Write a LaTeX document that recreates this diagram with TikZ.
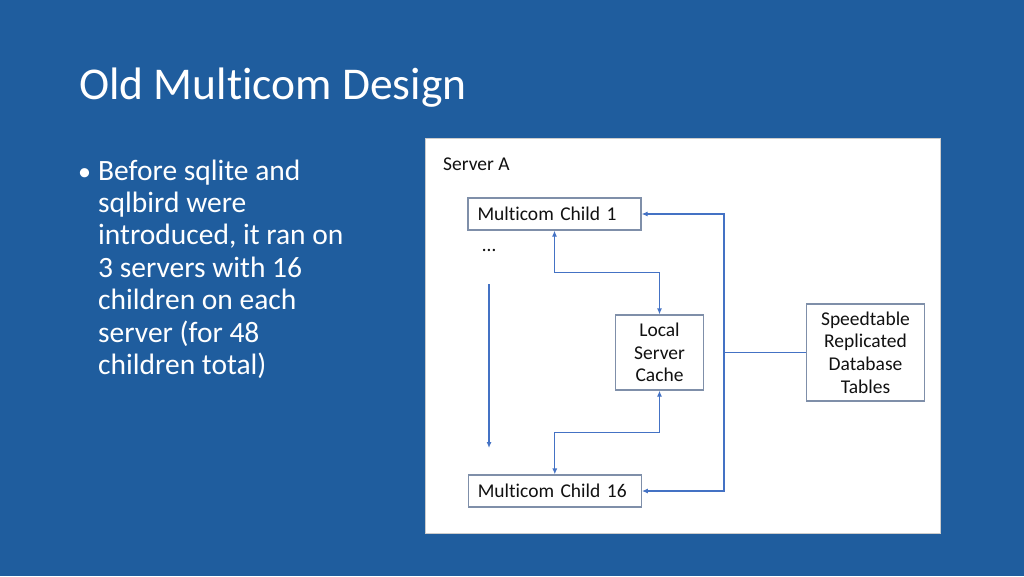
\documentclass[tikz,border=0pt]{standalone}
\usepackage{fontspec}
\setmainfont{Carlito}[Ligatures={NoCommon}]
\usetikzlibrary{arrows.meta}
\definecolor{bgblue}{HTML}{1F5D9E}
\definecolor{connblue}{HTML}{4472C4}
\definecolor{boxedge}{HTML}{7F8FA9}
\definecolor{txt}{HTML}{111111}
\tikzset{
  boxnode/.style={draw=boxedge, line width=1.2pt, fill=white, text=txt, inner sep=0pt,
    font=\fontsize{19.5}{22.6}\selectfont},
  childbox/.style={boxnode, minimum width=173pt, minimum height=32pt, text width=154pt, align=left, inner xsep=9.5pt},
  conn/.style={draw=connblue, line width=1.2pt, -{Latex[length=6pt,width=5pt]}},
  conn2/.style={draw=connblue, line width=1.2pt, {Latex[length=6pt,width=5pt]}-{Latex[length=6pt,width=5pt]}},
  plain/.style={draw=connblue, line width=1.2pt},
}
\begin{document}
\begin{tikzpicture}[x=1pt,y=-1pt]
\useasboundingbox (0,0) rectangle (1024,576);
\fill[bgblue] (0,0) rectangle (1024,576);
% title
\node[anchor=base west, inner sep=0pt, text=white, font=\fontsize{45.5}{50}\selectfont] (title) at (79,99) {Old Multicom Design};
% bullet
\node[anchor=base west, inner sep=0pt, text=white, font=\fontsize{26}{32.4}\selectfont] (bul) at (78,180) {•};
\node[anchor=base west, inner sep=0pt, text=white, align=left, font=\fontsize{29.5}{32.4}\selectfont] (btext) at (98,374.4)
 {Before sqlite and\\sqlbird were\\introduced, it ran on\\3 servers with 16\\children on each\\server (for 48\\children total)};
% panel
\node[draw=gray!40, line width=0.8pt, fill=white, inner sep=0pt, minimum width=515pt, minimum height=395pt, anchor=north west] (panel) at (425,138) {};
\node[anchor=base west, inner sep=0pt, text=txt, font=\fontsize{19.5}{22}\selectfont] (sa) at (443,170) {Server A};
% boxes
\node[childbox] (c1) at (554.5,214) {Multicom Child 1};
\node[childbox] (c16) at (554.8,491) {Multicom Child 16};
\node[boxnode, minimum width=88pt, minimum height=75pt, align=center] (cache) at (659.5,352.5) {Local\\Server\\Cache};
\node[boxnode, minimum width=118pt, minimum height=97pt, align=center] (sp) at (865.5,352.5) {Speedtable\\Replicated\\Database\\Tables};
\node[inner sep=0pt, text=txt, font=\fontsize{19.5}{22}\selectfont] (dots) at (489,250) {…};
% connectors
\coordinate (j) at (724,352.5);
\draw[plain] (sp.west) -- (j);
\draw[conn] (j) |- (c1.east);
\draw[conn] (j) |- (c16.east);
\draw[conn2] (c1.south) -- (c1.south |- 0,272.5) -| (cache.north);
\draw[conn2] (cache.south) -- (cache.south |- 0,432.5) -| (c16.north);
\coordinate (dtop) at (489,284);
\coordinate (dbot) at (489,448);
\draw[conn] (dtop) -- (dbot);
\end{tikzpicture}
\end{document}
